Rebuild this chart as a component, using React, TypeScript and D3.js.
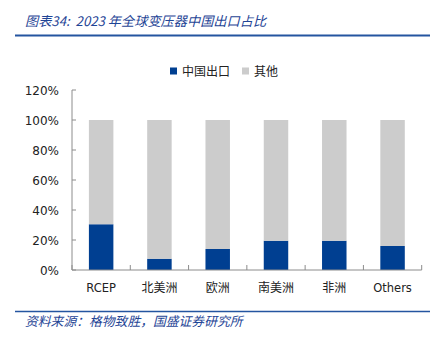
import React from "react";
import * as d3 from "d3";

const categories = ["RCEP", "北美洲", "欧洲", "南美洲", "非洲", "Others"];
const chinaExport = [30.5, 7.5, 14, 19.5, 19.5, 16];
const others = [69.5, 92.5, 86, 80.5, 80.5, 84];
const yTicks = [0, 20, 40, 60, 80, 100, 120];
const seriesNames = ["中国出口", "其他"];
const colors = ["#003f91", "#cccccc"];

const W = 441, H = 338;
const left = 72, right = 421.7, top = 90, bottom = 270;

export default function App() {
  const x = d3.scaleBand<string>().domain(categories).range([left, right]).paddingInner(0.58).paddingOuter(0.29);
  const band = d3.scaleBand<string>().domain(categories).range([left, right]);
  const y = d3.scaleLinear().domain([0, 120]).range([bottom, top]);
  const cjk = "'Noto Sans CJK SC', sans-serif";
  const latin = "'DejaVu Sans', Verdana, sans-serif";
  const bounds = categories.map((c) => band(c)!).concat([right]);
  return (
    <svg width={W} height={H} style={{ position: "absolute", left: 0, top: 0, background: "#fff" }}>
      <text x={25} y={26} fontFamily={cjk} fontSize={13.2} fontStyle="italic" fill="#1f4596" style={{ whiteSpace: "pre" }}>
        {"图表34:  2023 年全球变压器中国出口占比"}
      </text>
      <line x1={15} x2={430} y1={35.5} y2={35.5} stroke="#2455a0" strokeWidth={2} />
      {/* legend */}
      <rect x={170} y={67.5} width={7} height={7} fill={colors[0]} />
      <text x={182} y={75.5} fontFamily={cjk} fontSize={12} fill="#222">{seriesNames[0]}</text>
      <rect x={242} y={67.5} width={7} height={7} fill={colors[1]} />
      <text x={254} y={75.5} fontFamily={cjk} fontSize={12} fill="#222">{seriesNames[1]}</text>
      {/* bars */}
      {categories.map((c, i) => (
        <g key={c}>
          <rect x={x(c)} width={x.bandwidth()} y={y(chinaExport[i])} height={y(0) - y(chinaExport[i])} fill={colors[0]} />
          <rect x={x(c)} width={x.bandwidth()} y={y(chinaExport[i] + others[i])} height={y(0) - y(others[i])} fill={colors[1]} />
        </g>
      ))}
      {/* y axis */}
      <line x1={left} x2={left} y1={top} y2={bottom} stroke="#8c8c8c" />
      {yTicks.map((t) => (
        <g key={t}>
          <line x1={left} x2={left + 4} y1={y(t)} y2={y(t)} stroke="#8c8c8c" />
          <text x={59} y={y(t) + 4.5} textAnchor="end" fontFamily={latin} fontSize={12} fill="#222">{t}%</text>
        </g>
      ))}
      {/* x axis */}
      <line x1={left} x2={right} y1={bottom} y2={bottom} stroke="#8c8c8c" />
      {bounds.map((b, i) => (
        <line key={i} x1={b} x2={b} y1={bottom} y2={bottom - 5} stroke="#8c8c8c" />
      ))}
      {categories.map((c) => (
        <text key={c} x={band(c)! + band.bandwidth() / 2} y={292} textAnchor="middle"
          fontFamily={/[A-Za-z]/.test(c) ? latin : cjk} fontSize={/[A-Za-z]/.test(c) ? 11.5 : 12} fill="#222">{c}</text>
      ))}
      <line x1={15} x2={430} y1={311.5} y2={311.5} stroke="#2455a0" strokeWidth={1.5} />
      <text x={25} y={326} fontFamily={cjk} fontSize={12.8} fontStyle="italic" fill="#1f4596">
        资料来源：格物致胜，国盛证券研究所
      </text>
    </svg>
  );
}
